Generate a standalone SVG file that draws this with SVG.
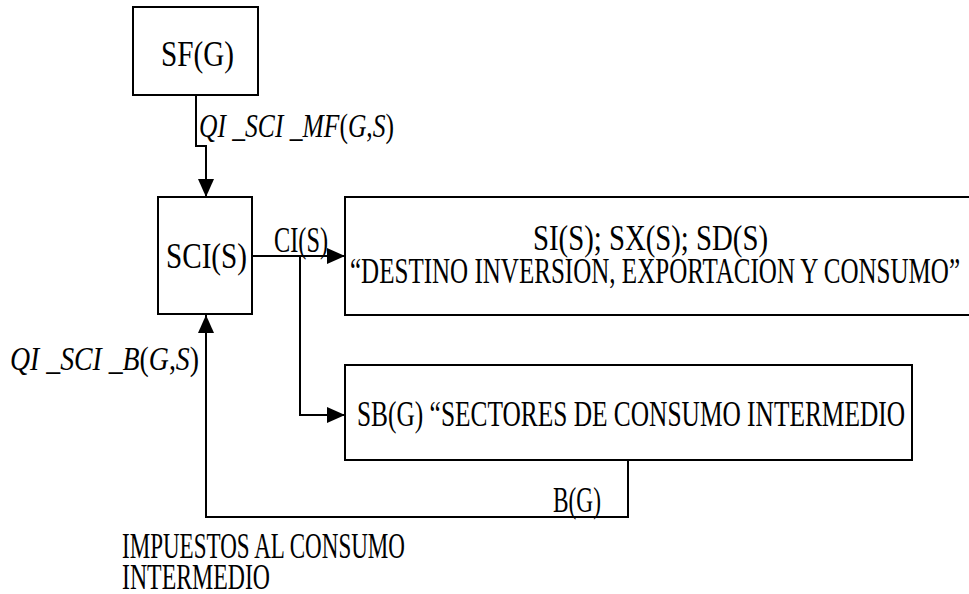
<svg xmlns="http://www.w3.org/2000/svg" width="969" height="594" viewBox="0 0 969 594">
<defs>
<marker id="arr" viewBox="0 0 18 16" refX="18" refY="8" markerWidth="18" markerHeight="16" markerUnits="userSpaceOnUse" orient="auto">
<path d="M0,0 L18,8 L0,16 Z" fill="#000"/>
</marker>
</defs>
<style>
.box{fill:#fff;stroke:#000;stroke-width:2}
.ln{fill:none;stroke:#000;stroke-width:2}
.t{font-family:"Liberation Serif","Times New Roman",serif;font-size:35px;fill:#000}
.i{font-style:italic;font-size:33px}
.u{font-style:normal}
</style>
<rect width="969" height="594" fill="#fff"/>
<g id="connectors">
<path class="ln" d="M196,95 V146 H206 V197" marker-end="url(#arr)"/>
<path class="ln" d="M252,256 H345" marker-end="url(#arr)"/>
<path class="ln" d="M300,256 V415 H345" marker-end="url(#arr)"/>
<path class="ln" d="M628,460 V517 H206 V315" marker-end="url(#arr)"/>
<text class="t i" x="199" y="137" textLength="195" lengthAdjust="spacingAndGlyphs">QI _SCI _MF<tspan class="u">(</tspan>G<tspan class="u">,</tspan>S<tspan class="u">)</tspan></text>
<text class="t" x="274" y="252" textLength="54" lengthAdjust="spacingAndGlyphs">CI(S)</text>
<text class="t i" x="10" y="370" textLength="189" lengthAdjust="spacingAndGlyphs">QI _SCI _B<tspan class="u">(</tspan>G<tspan class="u">,</tspan>S<tspan class="u">)</tspan></text>
<text class="t" x="553" y="512" textLength="48" lengthAdjust="spacingAndGlyphs">B(G)</text>
</g>
<g id="SF">
<rect class="box" x="133" y="7" width="125" height="88"/>
<text class="t" x="161" y="66" textLength="73" lengthAdjust="spacingAndGlyphs">SF(G)</text>
</g>
<g id="SCI">
<rect class="box" x="158" y="197" width="94" height="117"/>
<text class="t" x="166" y="268" textLength="81" lengthAdjust="spacingAndGlyphs">SCI(S)</text>
</g>
<g id="DEST">
<rect class="box" x="345" y="197" width="640" height="118"/>
<text class="t" x="533" y="250" textLength="235" lengthAdjust="spacingAndGlyphs">SI(S); SX(S); SD(S)</text>
<text class="t" x="350" y="283" textLength="610" lengthAdjust="spacingAndGlyphs">“DESTINO INVERSION, EXPORTACION Y CONSUMO”</text>
</g>
<g id="SB">
<rect class="box" x="345" y="365" width="567" height="95"/>
<text class="t" x="357" y="426" textLength="548" lengthAdjust="spacingAndGlyphs">SB(G) “SECTORES DE CONSUMO INTERMEDIO</text>
</g>
<g id="IMP">
<text class="t" x="122" y="558" textLength="283" lengthAdjust="spacingAndGlyphs">IMPUESTOS AL CONSUMO</text>
<text class="t" x="122" y="589" textLength="148" lengthAdjust="spacingAndGlyphs">INTERMEDIO</text>
</g>
</svg>
